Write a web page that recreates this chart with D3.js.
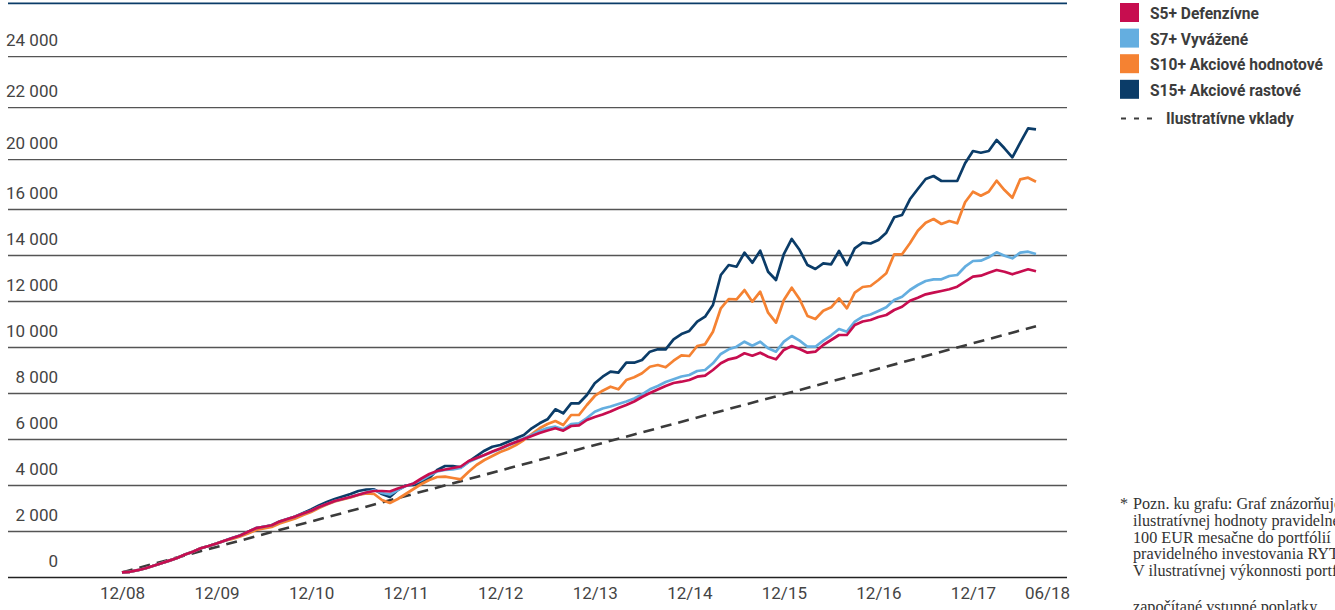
<!DOCTYPE html>
<html>
<head>
<meta charset="utf-8">
<script src="https://cdn.jsdelivr.net/npm/d3@7"></script>
<style>
  body { margin: 0; background: #fff; }
  svg { display: block; }
</style>
</head>
<body>
<svg id="chart"></svg>
<script>
// values, one per month starting 12/08
var s5 = [204,226,296,383,487,596,713,826,974,1100,1248,1348,1457,1578,1696,1804,1965,2122,2183,2248,2409,2522,2626,2757,2878,3043,3174,3304,3391,3478,3578,3674,3739,3739,3717,3848,
  3957,4065,4283,4478,4609,4674,4739,4804,5043,5174,5304,5457,5587,5739,5870,6000,6130,6261,6370,6465,6361,6565,6596,6826,6957,7065,7196,7348,7478,7630,7826,8000,8152,8304,8435,8491,8565,8709,8752,
  9000,9291,9465,9535,9726,9622,9752,9578,9465,9870,10043,9913,9752,9796,10087,10304,10522,10522,10957,11109,11174,11304,11391,11609,11752,12013,12143,12291,12361,12435,12509,12622,12839,13057,13100,13230,13348,13274,13161,13274,13378,13291];

var s7 = [204,226,296,383,487,596,713,826,974,1100,1248,1348,1457,1578,1696,1804,1965,2122,2183,2248,2409,2522,2626,2757,2878,3043,3174,3304,3391,3478,3578,3674,
  3783,3652,3587,3783,3957,4065,4217,4413,4587,4652,4674,4739,5000,5152,5304,5435,5565,5717,5870,6030,6174,6348,6478,6535,6422,6652,6683,6913,7187,7326,7413,7522,7630,7761,7935,8161,8304,8478,8596,8717,8783,8957,9000,
  9291,9696,9900,10013,10230,10057,10230,9943,9796,10230,10478,10274,10013,10013,10274,10509,10783,10665,11100,11326,11413,11565,11726,12043,12187,12478,12696,12870,12943,12943,13087,13130,13491,13739,13752,13900,14117,13970,13857,14100,14143,14043];

var s10 = [204,226,296,383,487,596,713,826,974,1100,1248,1348,1457,1578,
  1652,1761,1891,2043,2109,2174,2326,2435,2543,2696,2826,3000,3152,3283,3370,3457,3565,3630,3609,3348,3217,3391,3609,3826,4043,4217,4348,4361,4304,4248,4578,4870,5087,5261,5435,5565,5739,5957,6217,6465,6652,6783,6609,7043,7043,7478,7870,8100,8274,8161,8565,8683,8857,9143,9217,9117,9404,9639,9609,10043,10117,
  10665,11683,12087,12074,12478,11970,12404,11491,11057,12043,12578,12074,11348,11217,11578,11726,12117,11683,12361,12609,12652,12913,13204,14030,14030,14509,15057,15404,15565,15348,15478,15378,16291,16752,16578,16752,17230,16826,16491,17291,17361,17187];

var s15 = [204,226,296,383,487,596,713,826,974,1100,1248,1348,1457,1578,1696,1804,1965,2122,2183,2248,2409,2522,2626,
  2783,2935,3109,3261,3391,3500,3609,3739,3804,3813,3609,3478,3783,3978,4000,4130,4304,4652,4826,4826,4770,5013,5261,5491,5665,5739,5883,6030,6174,6465,6683,6857,7291,7117,7552,7552,7913,8422,8709,8926,8883,9317,9317,9435,9796,9900,9900,10335,10565,10696,11100,11317,
  11826,13130,13565,13491,14100,13665,14187,13274,12913,14043,14696,14217,13565,13391,13639,13596,14174,13565,14291,14535,14500,14652,14970,15639,15739,16422,16870,17304,17435,17217,17217,17217,17987,18522,18448,18522,19000,18639,18248,18883,19509,19465];

// illustrative deposits (straight dashed line)
var depositMonths = [0, 116];
var deposits = [200, 10900];

// x axis labels (month index from 12/08)
var tickMonths = [0, 12, 24, 36, 48, 60, 72, 84, 96, 108, 117.4];
var tickLabels = ["12/08","12/09","12/10","12/11","12/12","12/13","12/14","12/15","12/16","12/17","06/18"];

// horizontal rules and the labels printed on them
var gridValues = [0, 2000, 4000, 6000, 8000, 10000, 12000, 14000, 16000, 18170, 20430, 22650, 24960];
var gridLabels = ["0","2 000","4 000","6 000","8 000","10 000","12 000","14 000","16 000","20 000","22 000","24 000",""];

var seriesNames = ["S5+ Defenzívne", "S7+ Vyvážené", "S10+ Akciové hodnotové", "S15+ Akciové rastové"];
var seriesColors = ["#c70d4f", "#64aee0", "#f58232", "#0b3c68"];
var seriesData = [s5, s7, s10, s15];

var noteLines = [
  "Pozn. ku grafu: Graf znázorňuje",
  "ilustratívnej hodnoty pravidelného",
  "100 EUR mesačne do portfólií",
  "pravidelného investovania RYT",
  "V ilustratívnej výkonnosti portfólií",
  "započítané vstupné poplatky."
];

var width = 1335, height = 610;

var svg = d3.select("#chart")
  .attr("width", width)
  .attr("height", height);

var x = d3.scaleLinear().domain([0, 116]).range([122, 1036]);
var y = d3.scaleLinear().domain([0, 25000]).range([577, 2]);

// grid + y labels
var gy = svg.append("g")
  .attr("transform", "translate(8,0)")
  .call(d3.axisRight(y)
    .tickValues(gridValues)
    .tickSize(1059)
    .tickFormat(function(d, i) { return gridLabels[i]; }));
gy.select(".domain").remove();
gy.selectAll(".tick line")
  .attr("stroke", function(d, i) {
    if (i === gridValues.length - 1) return "#0b3c68";
    if (i === 0) return "#222";
    return "#555";
  })
  .attr("stroke-width", function(d, i) { return (i === gridValues.length - 1 || i === 0) ? 1.6 : 1.3; });
gy.selectAll(".tick text")
  .attr("x", 50)
  .attr("dy", -10.5)
  .attr("text-anchor", "end")
  .attr("fill", "#444")
  .style("font-family", "Roboto, sans-serif")
  .style("font-size", "17px");

// x labels
var gx = svg.append("g")
  .attr("transform", "translate(0,577)")
  .call(d3.axisBottom(x)
    .tickValues(tickMonths)
    .tickSize(0)
    .tickPadding(10)
    .tickFormat(function(d, i) { return tickLabels[i]; }));
gx.select(".domain").remove();
gx.selectAll(".tick text")
  .attr("fill", "#444")
  .style("font-family", "Roboto, sans-serif")
  .style("font-size", "17px");

// deposits
var depLine = d3.line()
  .x(function(d, i) { return x(depositMonths[i]); })
  .y(function(d) { return y(d); });
svg.append("path")
  .datum(deposits)
  .attr("fill", "none")
  .attr("stroke", "#3b3b3b")
  .attr("stroke-width", 2.6)
  .attr("stroke-dasharray", "11,7")
  .attr("d", depLine);

// series, drawn from the top fund down so S5 ends on top
var line = d3.line()
  .x(function(d, i) { return x(i); })
  .y(function(d) { return y(d); });
[3, 2, 1, 0].forEach(function(k) {
  svg.append("path")
    .datum(seriesData[k])
    .attr("fill", "none")
    .attr("stroke", seriesColors[k])
    .attr("stroke-width", 2.7)
    .attr("stroke-linejoin", "round")
    .attr("d", line);
});

// legend (bold text squeezed to look condensed like the original)
var legend = svg.append("g").attr("transform", "translate(1120,3)");
var legendTexts = [];
seriesNames.forEach(function(name, i) {
  var g = legend.append("g").attr("transform", "translate(0," + (i * 25.6) + ")");
  g.append("rect").attr("width", 19).attr("height", 19).attr("fill", seriesColors[i]);
  var tg = g.append("g").attr("transform", "translate(30,16)");
  legendTexts.push(tg.append("text")
    .attr("fill", "#3c3c3c")
    .style("font-family", "Roboto, sans-serif")
    .style("font-weight", "bold")
    .style("font-size", "17px")
    .text(name));
});
var gd = legend.append("g").attr("transform", "translate(0," + (4 * 25.6) + ")");
gd.append("line")
  .attr("x1", 1).attr("x2", 32).attr("y1", 13).attr("y2", 13)
  .attr("stroke", "#3c3c3c").attr("stroke-width", 2)
  .attr("stroke-dasharray", "5,8");
var dtg = gd.append("g").attr("transform", "translate(46,19)");
legendTexts.push(dtg.append("text")
  .attr("fill", "#3c3c3c")
  .style("font-family", "Roboto, sans-serif")
  .style("font-weight", "bold")
  .style("font-size", "17px")
  .text("Ilustratívne vklady"));

var widest = legendTexts[2].node().getComputedTextLength();
var k = 173 / widest;
legendTexts.forEach(function(t) { t.attr("transform", "scale(" + k + ",1)"); });

// footnote, cut at the right edge like the original
var note = svg.append("g")
  .style("font-family", "'Liberation Serif', 'DejaVu Serif', serif")
  .style("font-size", "16.2px")
  .attr("fill", "#333");
note.append("text").attr("x", 1120).attr("y", 509).text("*");
noteLines.forEach(function(t, i) {
  note.append("text")
    .attr("x", 1133)
    .attr("y", i < 5 ? 509 + i * 16.8 : 612)
    .text(t);
});
</script>
</body>
</html>
